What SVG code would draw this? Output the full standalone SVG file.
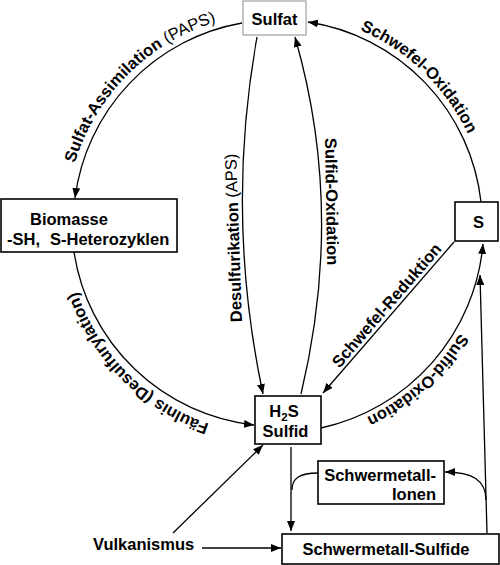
<svg xmlns="http://www.w3.org/2000/svg" width="500" height="565" viewBox="0 0 500 565">
<style>
.n{fill:#fff;stroke:#000;stroke-width:1.6}
.t{font-family:"Liberation Sans",Arial,sans-serif;font-weight:bold;font-size:16.5px;fill:#000}
.r{font-weight:normal}
.c{fill:none;stroke:#000;stroke-width:1.3}
.a{marker-end:url(#ah)}
</style>
<defs>
<marker id="ah" markerWidth="10" markerHeight="8" refX="10" refY="4" orient="auto" markerUnits="userSpaceOnUse"><path d="M0,0 L10,4 L0,8 z" fill="#000"/></marker>
<path id="pAss" d="M66.8,205.6 A211,211 0 0 1 258.6,13.8"/>
<path id="pSOx" d="M291.7,13.5 A211,211 0 0 1 486.8,201.9"/>
<path id="pSfOx" d="M487.9,253.6 A213,213 0 0 1 284.4,436.9"/>
<path id="pFaul" d="M258.6,434.2 A211,211 0 0 1 66.8,242.4"/>
</defs>
<rect width="500" height="565" fill="#fff"/>
<g id="connectors">
<path class="c a" d="M242,23 A204,204 0 0 0 75,198"/>
<path class="c a" d="M481,202 A205,205 0 0 0 308,22"/>
<path class="c a" d="M74,252 A205,205 0 0 0 254,425"/>
<path class="c a" d="M321,428 A207,207 0 0 0 483,244"/>
<path class="c a" d="M257,37 Q225,215 263,394"/>
<path class="c a" d="M301,394 Q345,210 295,37"/>
<path class="c a" d="M454,242 L323,393"/>
<path class="c a" d="M173,533 L263,445"/>
<path class="c a" d="M202,548 L281,548"/>
<path class="c a" d="M291,447 L291,531"/>
<path class="c" d="M318,473 C300,473 292,478 292,490"/>
<path class="c a" d="M486,500 C486,480 472,472 445,472"/>
<path class="c a" d="M487,533 L480,275"/>
</g>
<g id="labels">
<text class="t"><textPath href="#pAss" startOffset="50%" text-anchor="middle">Sulfat-Assimilation<tspan class="r"> (PAPS)</tspan></textPath></text>
<text class="t"><textPath href="#pSOx" startOffset="50%" text-anchor="middle">Schwefel-Oxidation</textPath></text>
<text class="t"><textPath href="#pSfOx" startOffset="50%" text-anchor="middle">Sulfid-Oxidation</textPath></text>
<text class="t"><textPath href="#pFaul" startOffset="50%" text-anchor="middle">Fäulnis (Desulfurylation)</textPath></text>
<text class="t" x="242" y="322" transform="rotate(-92 242 322)">Desulfurikation<tspan class="r"> (APS)</tspan></text>
<text class="t" x="325" y="138" transform="rotate(89 325 138)">Sulfid-Oxidation</text>
<text class="t" x="390.9" y="309" text-anchor="middle" transform="rotate(-49.2 390.9 309)">Schwefel-Reduktion</text>
</g>
<g id="sulfat">
<rect x="243" y="1" width="63" height="34" fill="#fff" stroke="#8c8c8c" stroke-width="1"/>
<text class="t" x="274.5" y="25" text-anchor="middle">Sulfat</text>
</g>
<g id="biomasse">
<rect class="n" x="1" y="199" width="176" height="53"/>
<text class="t" x="30" y="225">Biomasse</text>
<text class="t" y="245"><tspan x="7">-SH,</tspan><tspan x="50">S-Heterozyklen</tspan></text>
</g>
<g id="s">
<rect class="n" x="455" y="202" width="43" height="39"/>
<text class="t" x="478.5" y="228" text-anchor="middle">S</text>
</g>
<g id="h2s">
<rect class="n" x="255" y="396" width="66" height="48"/>
<text class="t" x="284" y="417" text-anchor="middle">H<tspan font-size="11.5px" dy="4">2</tspan><tspan dy="-4">S</tspan></text>
<text class="t" x="285.5" y="437" text-anchor="middle">Sulfid</text>
</g>
<g id="ionen">
<rect class="n" x="318" y="461" width="126" height="43"/>
<text class="t" x="436" y="481" text-anchor="end">Schwermetall-</text>
<text class="t" x="436" y="500" text-anchor="end">Ionen</text>
</g>
<g id="sulfide">
<rect class="n" x="282" y="534" width="217" height="30"/>
<text class="t" x="386" y="555" text-anchor="middle">Schwermetall-Sulfide</text>
</g>
<g id="vulkanismus">
<text class="t" x="93" y="550">Vulkanismus</text>
</g>
</svg>
